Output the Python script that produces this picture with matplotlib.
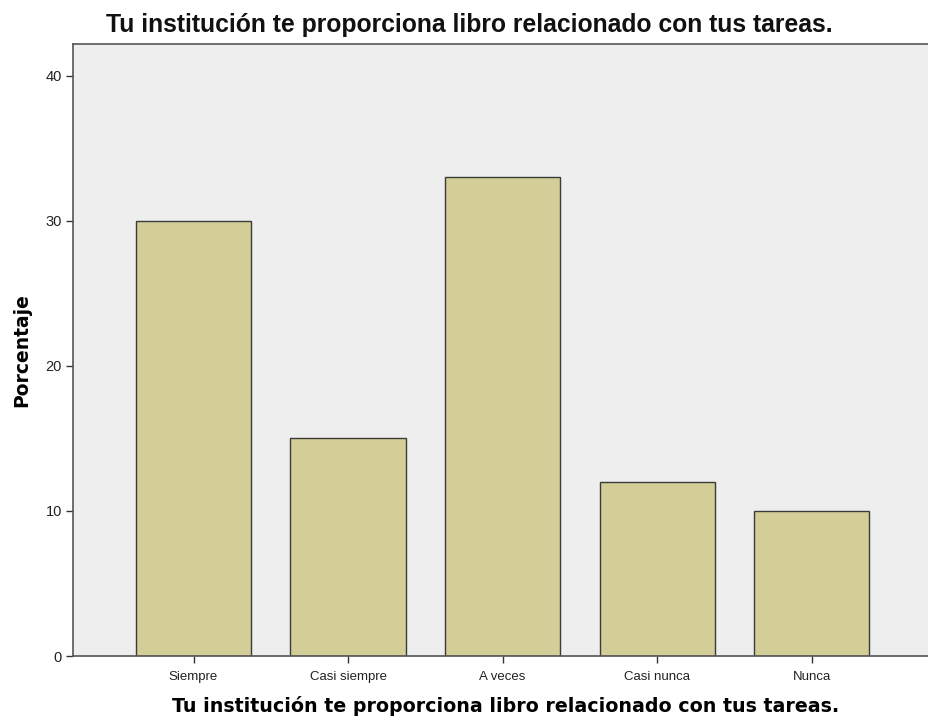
import matplotlib.pyplot as plt
import numpy as np

categories = ["Siempre", "Casi siempre", "A veces", "Casi nunca", "Nunca"]
porcentaje = [30, 15, 33, 12, 10]
y_ticks = [0, 10, 20, 30, 40]

title = "Tu institución te proporciona libro relacionado con tus tareas."

fig = plt.figure(figsize=(9.29, 7.23), dpi=100)
# axes box in pixels: left 73, top 44, bottom 656, right runs off the image
ax = fig.add_axes([73 / 929, (723 - 656) / 723, 1 - 73 / 929 + 0.01, (656 - 44) / 723])
ax.set_facecolor("#eeeeee")

x = np.arange(len(categories))
ax.bar(x, porcentaje, width=0.745, color="#d3ce97", edgecolor="#3a3a3a", linewidth=1.0, zorder=2)

ax.set_xlim(-0.78, 4.82)
ax.set_ylim(0, 42.2)
ax.set_xticks(x)
ax.set_xticklabels(categories, fontsize=9.5, family="Liberation Sans", color="#222222")
ax.set_yticks(y_ticks)
ax.set_yticklabels([str(t) for t in y_ticks], fontsize=10.5, family="Liberation Sans", color="#222222")
ax.tick_params(axis="x", length=5, width=1, color="#333333", pad=6)
ax.tick_params(axis="y", length=5, width=1, color="#333333", pad=3)

for side in ["left", "bottom", "top"]:
    ax.spines[side].set_color("#555555")
    ax.spines[side].set_linewidth(1.2)
ax.spines["right"].set_visible(False)

ax.set_ylabel("Porcentaje", fontsize=13.5, fontweight="bold", family="DejaVu Sans", labelpad=10)
ax.set_xlabel(title, fontsize=13.7, fontweight="bold", family="DejaVu Sans", labelpad=9)

fig.text(469 / 929, 1 - 25 / 723, title, ha="center", va="center", fontsize=17.8,
         fontweight="bold", family="Liberation Sans", color="#111111")

fig.savefig("out.png", dpi=100)
